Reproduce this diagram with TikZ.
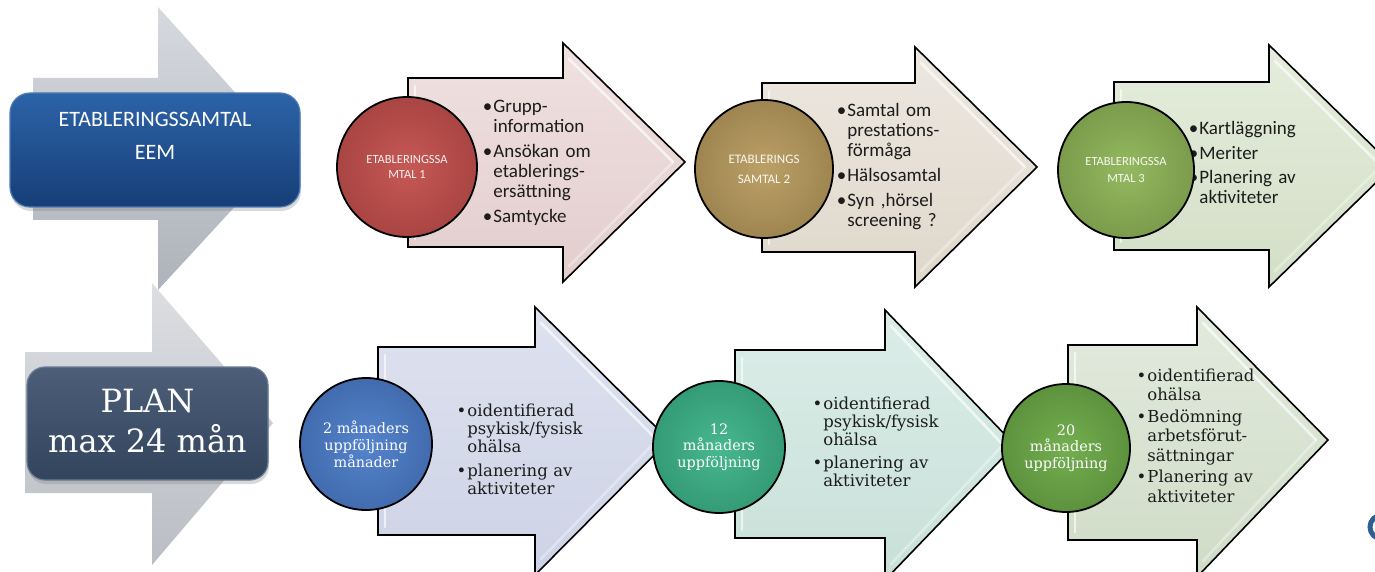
\documentclass[tikz,border=0pt]{standalone}
\usepackage{fontspec}
\newfontfamily\sansf{Carlito}
\newfontfamily\seriff{DejaVu Serif}
\usetikzlibrary{shadows}

% bullet lists: \bi first item, \bn following items
\newlength\bw
\newlength\bgap
\newcommand\bi[1]{\noindent\hangindent=\bw\hangafter=1\makebox[\bw][l]{\textbullet}#1\par}
\newcommand\bn[1]{\vskip\bgap\bi{#1}}

\definecolor{grayA}{HTML}{D6D9DE}
\definecolor{grayB}{HTML}{AEB2BA}
\definecolor{grayC}{HTML}{DCDEE2}
\definecolor{grayD}{HTML}{BABDC3}
\definecolor{eemTop}{HTML}{2C63A8}
\definecolor{eemBot}{HTML}{163E77}
\definecolor{eemRim}{HTML}{4F7BB5}
\definecolor{planTop}{HTML}{4C5E78}
\definecolor{planBot}{HTML}{33455D}
\definecolor{planRim}{HTML}{6A7C95}
\definecolor{pinkA}{HTML}{F0E1E1}\definecolor{pinkB}{HTML}{E3CDCD}
\definecolor{beigeA}{HTML}{EDE8E0}\definecolor{beigeB}{HTML}{DED7CB}
\definecolor{limeA}{HTML}{E5ECDC}\definecolor{limeB}{HTML}{D3DFC7}
\definecolor{lavA}{HTML}{DEE2EF}\definecolor{lavB}{HTML}{CDD3E6}
\definecolor{tealA}{HTML}{DCEDE8}\definecolor{tealB}{HTML}{C8E0D9}
\definecolor{sageA}{HTML}{E2EADD}\definecolor{sageB}{HTML}{CFDCC7}
\definecolor{cRed}{HTML}{C4504D}
\definecolor{cGold}{HTML}{B89B5E}
\definecolor{cLime}{HTML}{8FB558}
\definecolor{cBlue}{HTML}{4C7DCA}
\definecolor{cTeal}{HTML}{3DB48A}
\definecolor{cGreen}{HTML}{6CAA47}
\definecolor{inkText}{HTML}{1C1C1C}
\definecolor{ringBlue}{HTML}{2F5D96}

% one chevron-style arrow of a row: style, left, shaft top, shaft bottom,
% head base, head top, head bottom, tip x, tip y
\newcommand\rowarrow[9]{%
  \path[rowarrow,#1] (#2,#3) -- (#5,#3) -- (#5,#6) -- (#8,#9) -- (#5,#7)
     -- (#5,#4) -- (#2,#4) -- cycle;
  \draw[bevel] (#5+6,#6+16) -- (#8-12,#9);
  \draw[bevel,opacity=0.35] (#8-12,#9) -- (#5+6,#7-16);
  \draw[bevel] (#2+7,#3+8) -- (#2+7,#4-8);
}

\tikzset{
  grayarrow/.style={draw=none},
  rowarrow/.style={draw=black, line width=0.8pt, line join=miter},
  bevel/.style={white, opacity=0.65, line width=1.3pt, line cap=round},
  circ/.style={circle, draw=black, line width=0.9pt, inner sep=0pt, align=center},
  sanslist/.style={anchor=base west, inner sep=0pt, text width=110pt, text=inkText,
    font=\sansf\fontsize{9.5}{10}\selectfont},
  seriflist/.style={anchor=base west, inner sep=0pt, text width=110pt, text=inkText,
    font=\seriff\fontsize{8.25}{9}\selectfont},
}

\begin{document}
\begin{tikzpicture}[x=0.5pt, y=-0.5pt]
\useasboundingbox (0,0) rectangle (1375,572);
\clip (0,0) rectangle (1375,572);

% large grey arrows behind the two row labels
\path[grayarrow, top color=grayA, bottom color=grayB]
  (33,78) -- (158,78) -- (158,7) -- (287,150) -- (158,290) -- (158,220) -- (33,220) -- cycle;
\path[grayarrow, top color=grayC, bottom color=grayD]
  (25,352) -- (152,352) -- (152,283) -- (273,423) -- (152,565) -- (152,493) -- (25,493) -- cycle;

% row labels
\node[rounded corners=10pt, minimum width=145pt, minimum height=57pt,
      top color=eemTop, bottom color=eemBot, draw=eemRim, line width=0.6pt,
      drop shadow={shadow xshift=0.5pt, shadow yshift=-2pt, opacity=0.3}]
  (eem) at (155,150) {};
\node[text=white, align=center, font=\sansf\fontsize{11}{16.5}\selectfont]
  (eemtext) at (155,136) {ETABLERINGSSAMTAL\\EEM};

\node[rounded corners=9pt, minimum width=120.5pt, minimum height=56.5pt,
      top color=planTop, bottom color=planBot, draw=planRim, line width=0.6pt,
      drop shadow={shadow xshift=0.5pt, shadow yshift=-2pt, opacity=0.3}]
  (plan) at (147.5,423.5) {};
\node[text=white, align=center, font=\seriff\fontsize{16}{20}\selectfont]
  (plantext) at (147.5,421.5) {PLAN\\max 24 mån};

% row arrows
\rowarrow{top color=pinkA, bottom color=pinkB}{408}{78}{247}{563}{43}{282}{685}{162}
\rowarrow{top color=beigeA, bottom color=beigeB}{762}{83}{252}{915}{47}{287}{1037}{167}
\rowarrow{top color=limeA, bottom color=limeB}{1114}{82}{250}{1269}{45}{287}{1393}{166}
\rowarrow{top color=lavA, bottom color=lavB}{378}{347}{535}{535}{307}{575}{669}{440}
\rowarrow{top color=tealA, bottom color=tealB}{735}{350}{538}{885}{310}{580}{1015}{445}
\rowarrow{top color=sageA, bottom color=sageB}{1068}{345}{540}{1197}{307}{577}{1328}{440}

% bullet texts
\node[sanslist] (list1) at (482.4,113) {\setlength\bw{5.3pt}\setlength\bgap{2.5pt}%
  \bi{Grupp-\newline information}
  \bn{Ansökan om\newline etablerings-\newline ersättning}
  \bn{Samtycke}};
\node[sanslist] (list2) at (836.4,117) {\setlength\bw{5.3pt}\setlength\bgap{2.5pt}%
  \bi{Samtal om\newline prestations-\newline förmåga}
  \bn{Hälsosamtal}
  \bn{Syn ,hörsel\newline screening ?}};
\node[sanslist] (list3) at (1188.4,135) {\setlength\bw{5.3pt}\setlength\bgap{2.2pt}%
  \bi{Kartläggning}
  \bn{Meriter}
  \bn{Planering av\newline aktiviteter}};
\node[seriflist] (list4) at (456.2,416) {\setlength\bw{5.4pt}\setlength\bgap{3pt}%
  \bi{oidentifierad\newline psykisk/fysisk\newline ohälsa}
  \bn{planering av\newline aktiviteter}};
\node[seriflist] (list5) at (812.2,409) {\setlength\bw{5.4pt}\setlength\bgap{2.5pt}%
  \bi{oidentifierad\newline psykisk/fysisk\newline ohälsa}
  \bn{planering av\newline aktiviteter}};
\node[seriflist, font=\seriff\fontsize{8.25}{9.75}\selectfont] (list6) at (1136.2,381)
  {\setlength\bw{5.4pt}\setlength\bgap{1pt}%
  \bi{oidentifierad\newline ohälsa}
  \bn{Bedömning\newline arbetsförut-\newline sättningar}
  \bn{Planering av\newline aktiviteter}};

% step circles
\node[circ, minimum size=70pt, inner color=cRed!95!white, outer color=cRed!86!black,
      text=white!92!cRed, font=\sansf\fontsize{6.25}{7.5}\selectfont]
  (step1) at (407,167) {ETABLERINGSSA\\MTAL 1};
\node[circ, minimum size=69pt, inner color=cGold!95!white, outer color=cGold!86!black,
      text=white!92!cGold, font=\sansf\fontsize{6.5}{10}\selectfont]
  (step2) at (764,169) {ETABLERINGS\\SAMTAL 2};
\node[circ, minimum size=68pt, inner color=cLime!95!white, outer color=cLime!86!black,
      text=white!92!cLime, font=\sansf\fontsize{6.25}{8.5}\selectfont]
  (step3) at (1126,170) {ETABLERINGSSA\\MTAL 3};
\node[circ, minimum size=66pt, inner color=cBlue!95!white, outer color=cBlue!86!black,
      text=white, font=\seriff\fontsize{7.2}{8.6}\selectfont]
  (step4) at (366,444) {2 månaders\\uppföljning\\månader};
\node[circ, minimum size=66pt, inner color=cTeal!95!white, outer color=cTeal!86!black,
      text=white, font=\seriff\fontsize{7.2}{8.3}\selectfont]
  (step5) at (719,447) {12\\månaders\\uppföljning};
\node[circ, minimum size=64pt, inner color=cGreen!95!white, outer color=cGreen!86!black,
      text=white, font=\seriff\fontsize{7.2}{8.3}\selectfont]
  (step6) at (1066,448) {20\\månaders\\uppföljning};

% ring at the lower right edge
\node[circle, draw=ringBlue, line width=2.5pt, minimum size=12pt, inner sep=0pt]
  (ring) at (1382,527) {};
\end{tikzpicture}
\end{document}
